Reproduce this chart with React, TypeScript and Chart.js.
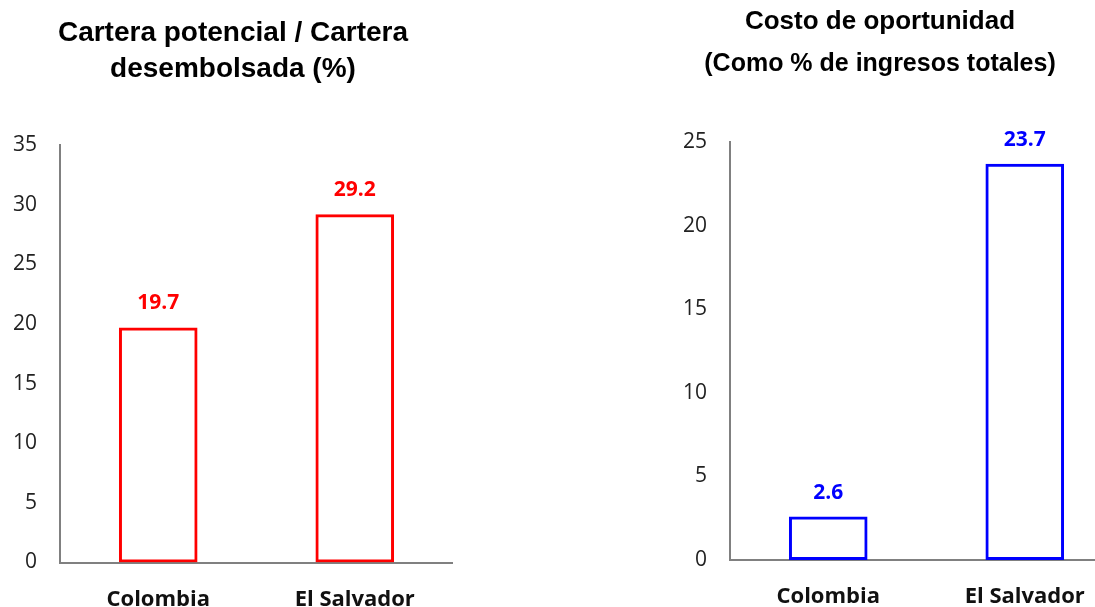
import React, { useEffect, useRef } from "react";
import { Chart, registerables } from "chart.js";

Chart.register(...registerables);

const categories = ["Colombia", "El Salvador"];
const carteraValues = [19.7, 29.2];
const costoValues = [2.6, 23.7];
const carteraTicks = [0, 5, 10, 15, 20, 25, 30, 35];
const costoTicks = [0, 5, 10, 15, 20, 25];
const carteraTitle = ["Cartera potencial / Cartera", "desembolsada (%)"];
const costoTitle = ["Costo de oportunidad", "(Como % de ingresos totales)"];

const RED = "#ff0000";
const BLUE = "#0000ff";
const AXIS = "#808080";

const valueLabels = {
  id: "valueLabels",
  afterDatasetsDraw(chart: any, _args: any, opts: any) {
    const { ctx } = chart;
    const meta = chart.getDatasetMeta(0);
    const ds = chart.data.datasets[0];
    ctx.save();
    ctx.font = 'bold 21px "Open Sans"';
    ctx.fillStyle = opts.color;
    ctx.textAlign = "center";
    ctx.textBaseline = "middle";
    meta.data.forEach((el: any, i: number) => {
      ctx.fillText(Number(ds.data[i]).toFixed(1), el.x, el.y - 24);
    });
    ctx.restore();
  },
};

function makeConfig(
  values: number[],
  ticks: number[],
  color: string,
  padTop: number,
  yWidth: number,
  xHeight: number
): any {
  return {
    type: "bar",
    data: {
      labels: categories,
      datasets: [
        {
          data: values,
          backgroundColor: "rgba(255,255,255,0)",
          borderColor: color,
          borderWidth: 3,
          borderSkipped: false,
          barPercentage: 0.4,
          categoryPercentage: 1,
        },
      ],
    },
    options: {
      responsive: false,
      animation: false,
      layout: { padding: { top: padTop, right: 0, bottom: 0, left: 0 } },
      plugins: {
        legend: { display: false },
        title: { display: false },
        tooltip: { enabled: false },
        valueLabels: { color },
      },
      scales: {
        x: {
          grid: { display: false, drawTicks: false },
          border: { display: true, color: AXIS, width: 2 },
          ticks: {
            color: "#111",
            padding: 24,
            font: { family: "Open Sans", size: 22, weight: "bold" },
          },
          afterFit: (s: any) => {
            s.height = xHeight;
          },
        },
        y: {
          min: ticks[0],
          max: ticks[ticks.length - 1],
          grid: { display: false, drawTicks: false },
          border: { display: true, color: AXIS, width: 2 },
          afterBuildTicks: (s: any) => {
            s.ticks = ticks.map((v) => ({ value: v }));
          },
          ticks: {
            color: "#222",
            padding: 23,
            font: { family: "Open Sans", size: 21 },
          },
          afterFit: (s: any) => {
            s.width = yWidth;
          },
        },
      },
    },
    plugins: [valueLabels],
  };
}

export default function App() {
  const leftRef = useRef<HTMLCanvasElement>(null);
  const rightRef = useRef<HTMLCanvasElement>(null);

  useEffect(() => {
    const c1 = new Chart(
      leftRef.current!,
      makeConfig(carteraValues, carteraTicks, RED, 145, 60, 44.5)
    );
    const c2 = new Chart(
      rightRef.current!,
      makeConfig(costoValues, costoTicks, BLUE, 142, 70, 47)
    );
    return () => {
      c1.destroy();
      c2.destroy();
    };
  }, []);

  const titleFont = '"Liberation Sans", Arial, sans-serif';

  return (
    <div
      style={{
        position: "fixed",
        left: 0,
        top: 0,
        width: 1095,
        height: 607,
        overflow: "hidden",
        background: "#fff",
      }}
    >
      <canvas
        ref={leftRef}
        width={453}
        height={607}
        style={{ position: "absolute", left: 0, top: 0, width: 453, height: 607 }}
      />
      <canvas
        ref={rightRef}
        width={463}
        height={607}
        style={{ position: "absolute", left: 660, top: 0, width: 463, height: 607 }}
      />
      <div
        style={{
          position: "absolute",
          left: 0,
          top: 14,
          width: 466,
          textAlign: "center",
          fontFamily: titleFont,
          fontWeight: "bold",
          fontSize: 28,
          lineHeight: "36px",
          color: "#000",
        }}
      >
        {carteraTitle.map((t) => (
          <div key={t}>{t}</div>
        ))}
      </div>
      <div
        style={{
          position: "absolute",
          left: 680,
          top: -1,
          width: 400,
          textAlign: "center",
          fontFamily: titleFont,
          fontWeight: "bold",
          lineHeight: "42px",
          color: "#000",
        }}
      >
        <div style={{ fontSize: 26 }}>{costoTitle[0]}</div>
        <div style={{ fontSize: 25 }}>{costoTitle[1]}</div>
      </div>
    </div>
  );
}
